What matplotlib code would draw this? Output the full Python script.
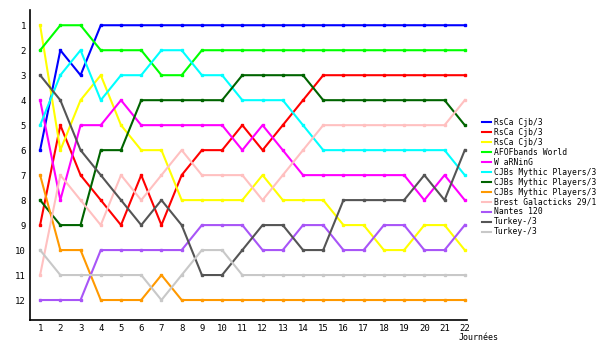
import matplotlib
matplotlib.use("Agg")
import matplotlib.pyplot as plt

# === Ranking per journée, 12 teams ===
journees = list(range(1, 23))

teams = ["RsCa Cjb/3", "RsCa Cjb/3", "RsCa Cjb/3", "AFOFbands World", "W aRNinG",
         "CJBs Mythic Players/3", "CJBs Mythic Players/3", "CJBs Mythic Players/3",
         "Brest Galacticks 29/1", "Nantes 120", "Turkey-/3", "Turkey-/3"]

colors = ["#0000ff", "#ff0000", "#ffff00", "#00ff00", "#ff00ff", "#00ffff",
          "#006400", "#ff9900", "#ffc0c0", "#a855f7", "#555555", "#c8c8c8"]

rsca_1 = [6, 2, 3, 1, 1, 1, 1, 1, 1, 1, 1, 1, 1, 1, 1, 1, 1, 1, 1, 1, 1, 1]
rsca_2 = [9, 5, 7, 8, 9, 7, 9, 7, 6, 6, 5, 6, 5, 4, 3, 3, 3, 3, 3, 3, 3, 3]
rsca_3 = [1, 6, 4, 3, 5, 6, 6, 8, 8, 8, 8, 7, 8, 8, 8, 9, 9, 10, 10, 9, 9, 10]
afof = [2, 1, 1, 2, 2, 2, 3, 3, 2, 2, 2, 2, 2, 2, 2, 2, 2, 2, 2, 2, 2, 2]
warning = [4, 8, 5, 5, 4, 5, 5, 5, 5, 5, 6, 5, 6, 7, 7, 7, 7, 7, 7, 8, 7, 8]
cjbs_1 = [5, 3, 2, 4, 3, 3, 2, 2, 3, 3, 4, 4, 4, 5, 6, 6, 6, 6, 6, 6, 6, 7]
cjbs_2 = [8, 9, 9, 6, 6, 4, 4, 4, 4, 4, 3, 3, 3, 3, 4, 4, 4, 4, 4, 4, 4, 5]
cjbs_3 = [7, 10, 10, 12, 12, 12, 11, 12, 12, 12, 12, 12, 12, 12, 12, 12, 12, 12, 12, 12, 12, 12]
brest = [11, 7, 8, 9, 7, 8, 7, 6, 7, 7, 7, 8, 7, 6, 5, 5, 5, 5, 5, 5, 5, 4]
nantes = [12, 12, 12, 10, 10, 10, 10, 10, 9, 9, 9, 10, 10, 9, 9, 10, 10, 9, 9, 10, 10, 9]
turkey_1 = [3, 4, 6, 7, 8, 9, 8, 9, 11, 11, 10, 9, 9, 10, 10, 8, 8, 8, 8, 7, 8, 6]
turkey_2 = [10, 11, 11, 11, 11, 11, 12, 11, 10, 10, 11, 11, 11, 11, 11, 11, 11, 11, 11, 11, 11, 11]

series = [rsca_1, rsca_2, rsca_3, afof, warning, cjbs_1, cjbs_2, cjbs_3,
          brest, nantes, turkey_1, turkey_2]

plt.rcParams["font.family"] = "DejaVu Sans Mono"

fig = plt.figure(figsize=(6, 3.5), dpi=100)
ax = fig.add_axes([0.05, 0.0857, 0.728, 0.885])

for name, col, ranks in zip(teams, colors, series):
    ax.plot(journees, ranks, color=col, lw=1.5, marker="s", markersize=2,
            label=name)

ax.set_xlim(0.5, 22.1)
ax.set_ylim(12.8, 0.4)
ax.set_xticks(journees)
ax.set_yticks(range(1, 13))
ax.tick_params(length=0, labelsize=6.5, pad=3)
ax.spines["top"].set_visible(False)
ax.spines["right"].set_visible(False)
ax.spines["left"].set_linewidth(1.2)
ax.spines["bottom"].set_linewidth(1.2)

fig.text(0.765, 0.035, "Journées", fontsize=6, ha="left", va="center")

fig.legend(loc="upper left", bbox_to_anchor=(0.797, 0.675), frameon=False,
           fontsize=5.8, handlelength=1.1, handletextpad=0.4,
           labelspacing=0.12, borderpad=0, markerscale=0)

fig.savefig("out.png", dpi=100)
